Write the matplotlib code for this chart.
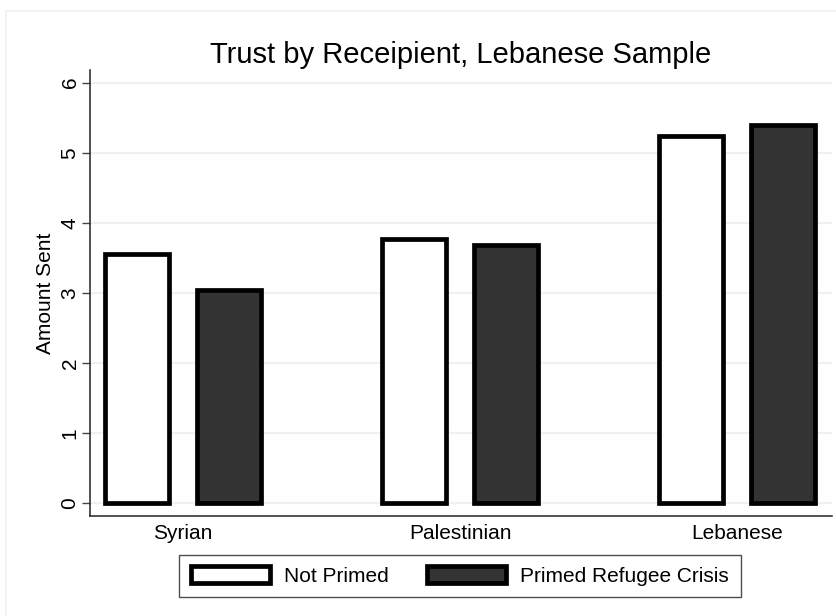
import numpy as np
import matplotlib.pyplot as plt
from matplotlib.patches import Rectangle

# values
recipients = ['Syrian', 'Palestinian', 'Lebanese']
not_primed = [3.55, 3.77, 5.24]
primed_crisis = [3.04, 3.69, 5.39]
yticks = [0, 1, 2, 3, 4, 5, 6]

plt.rcParams['font.family'] = ['Liberation Sans', 'DejaVu Sans']

fig = plt.figure(figsize=(8.37, 6.16), dpi=100)
fig.patch.set_facecolor('white')

# faint outer frame (Stata style)
fig.patches.append(Rectangle((6 / 837, -0.01), 1.0, 1 - 11 / 616 + 0.01,
                             transform=fig.transFigure, fill=False,
                             edgecolor='#eef2f3', linewidth=1.2))

ax = fig.add_axes([90 / 837, 1 - 516 / 616, 742 / 837, (516 - 70) / 616])

x = np.arange(len(recipients))
width = 0.231
off = 0.166

ax.bar(x - off, not_primed, width, color='white', edgecolor='black',
       linewidth=3.4, label='Not Primed', zorder=3)
ax.bar(x + off, primed_crisis, width, color='#333333', edgecolor='black',
       linewidth=3.4, label='Primed Refugee Crisis', zorder=3)

ax.set_xlim(-0.336, 2.343)
ax.set_ylim(-0.18, 6.18)
ax.set_xticks(x)
ax.set_xticklabels(recipients, fontsize=15)
ax.tick_params(axis='x', length=0, pad=6)
ax.set_yticks(yticks)
ax.set_yticklabels([str(t) for t in yticks], fontsize=15, rotation=90, va='center')
ax.tick_params(axis='y', length=6, width=1, color='#444444', pad=1.5)

ax.grid(axis='y', color='#eaf2f3', linewidth=1.5, zorder=0)
ax.set_axisbelow(True)

for s in ['top', 'right']:
    ax.spines[s].set_visible(False)
for s in ['left', 'bottom']:
    ax.spines[s].set_color('#222222')
    ax.spines[s].set_linewidth(1.1)

ax.set_ylabel('Amount Sent', fontsize=15, labelpad=4)
fig.text(461 / 837, 1 - 55 / 616, 'Trust by Receipient, Lebanese Sample',
         fontsize=21, ha='center', va='center')

leg = fig.legend(loc='center', bbox_to_anchor=(460 / 837, 1 - 576 / 616),
                 ncol=2, fontsize=15, frameon=True, fancybox=False,
                 edgecolor='#222222', handlelength=3.8, handleheight=0.9,
                 handletextpad=0.7, columnspacing=1.8, borderpad=0.55,
                 borderaxespad=0)
leg.get_frame().set_linewidth(1.0)

fig.savefig('out.png', dpi=100)
